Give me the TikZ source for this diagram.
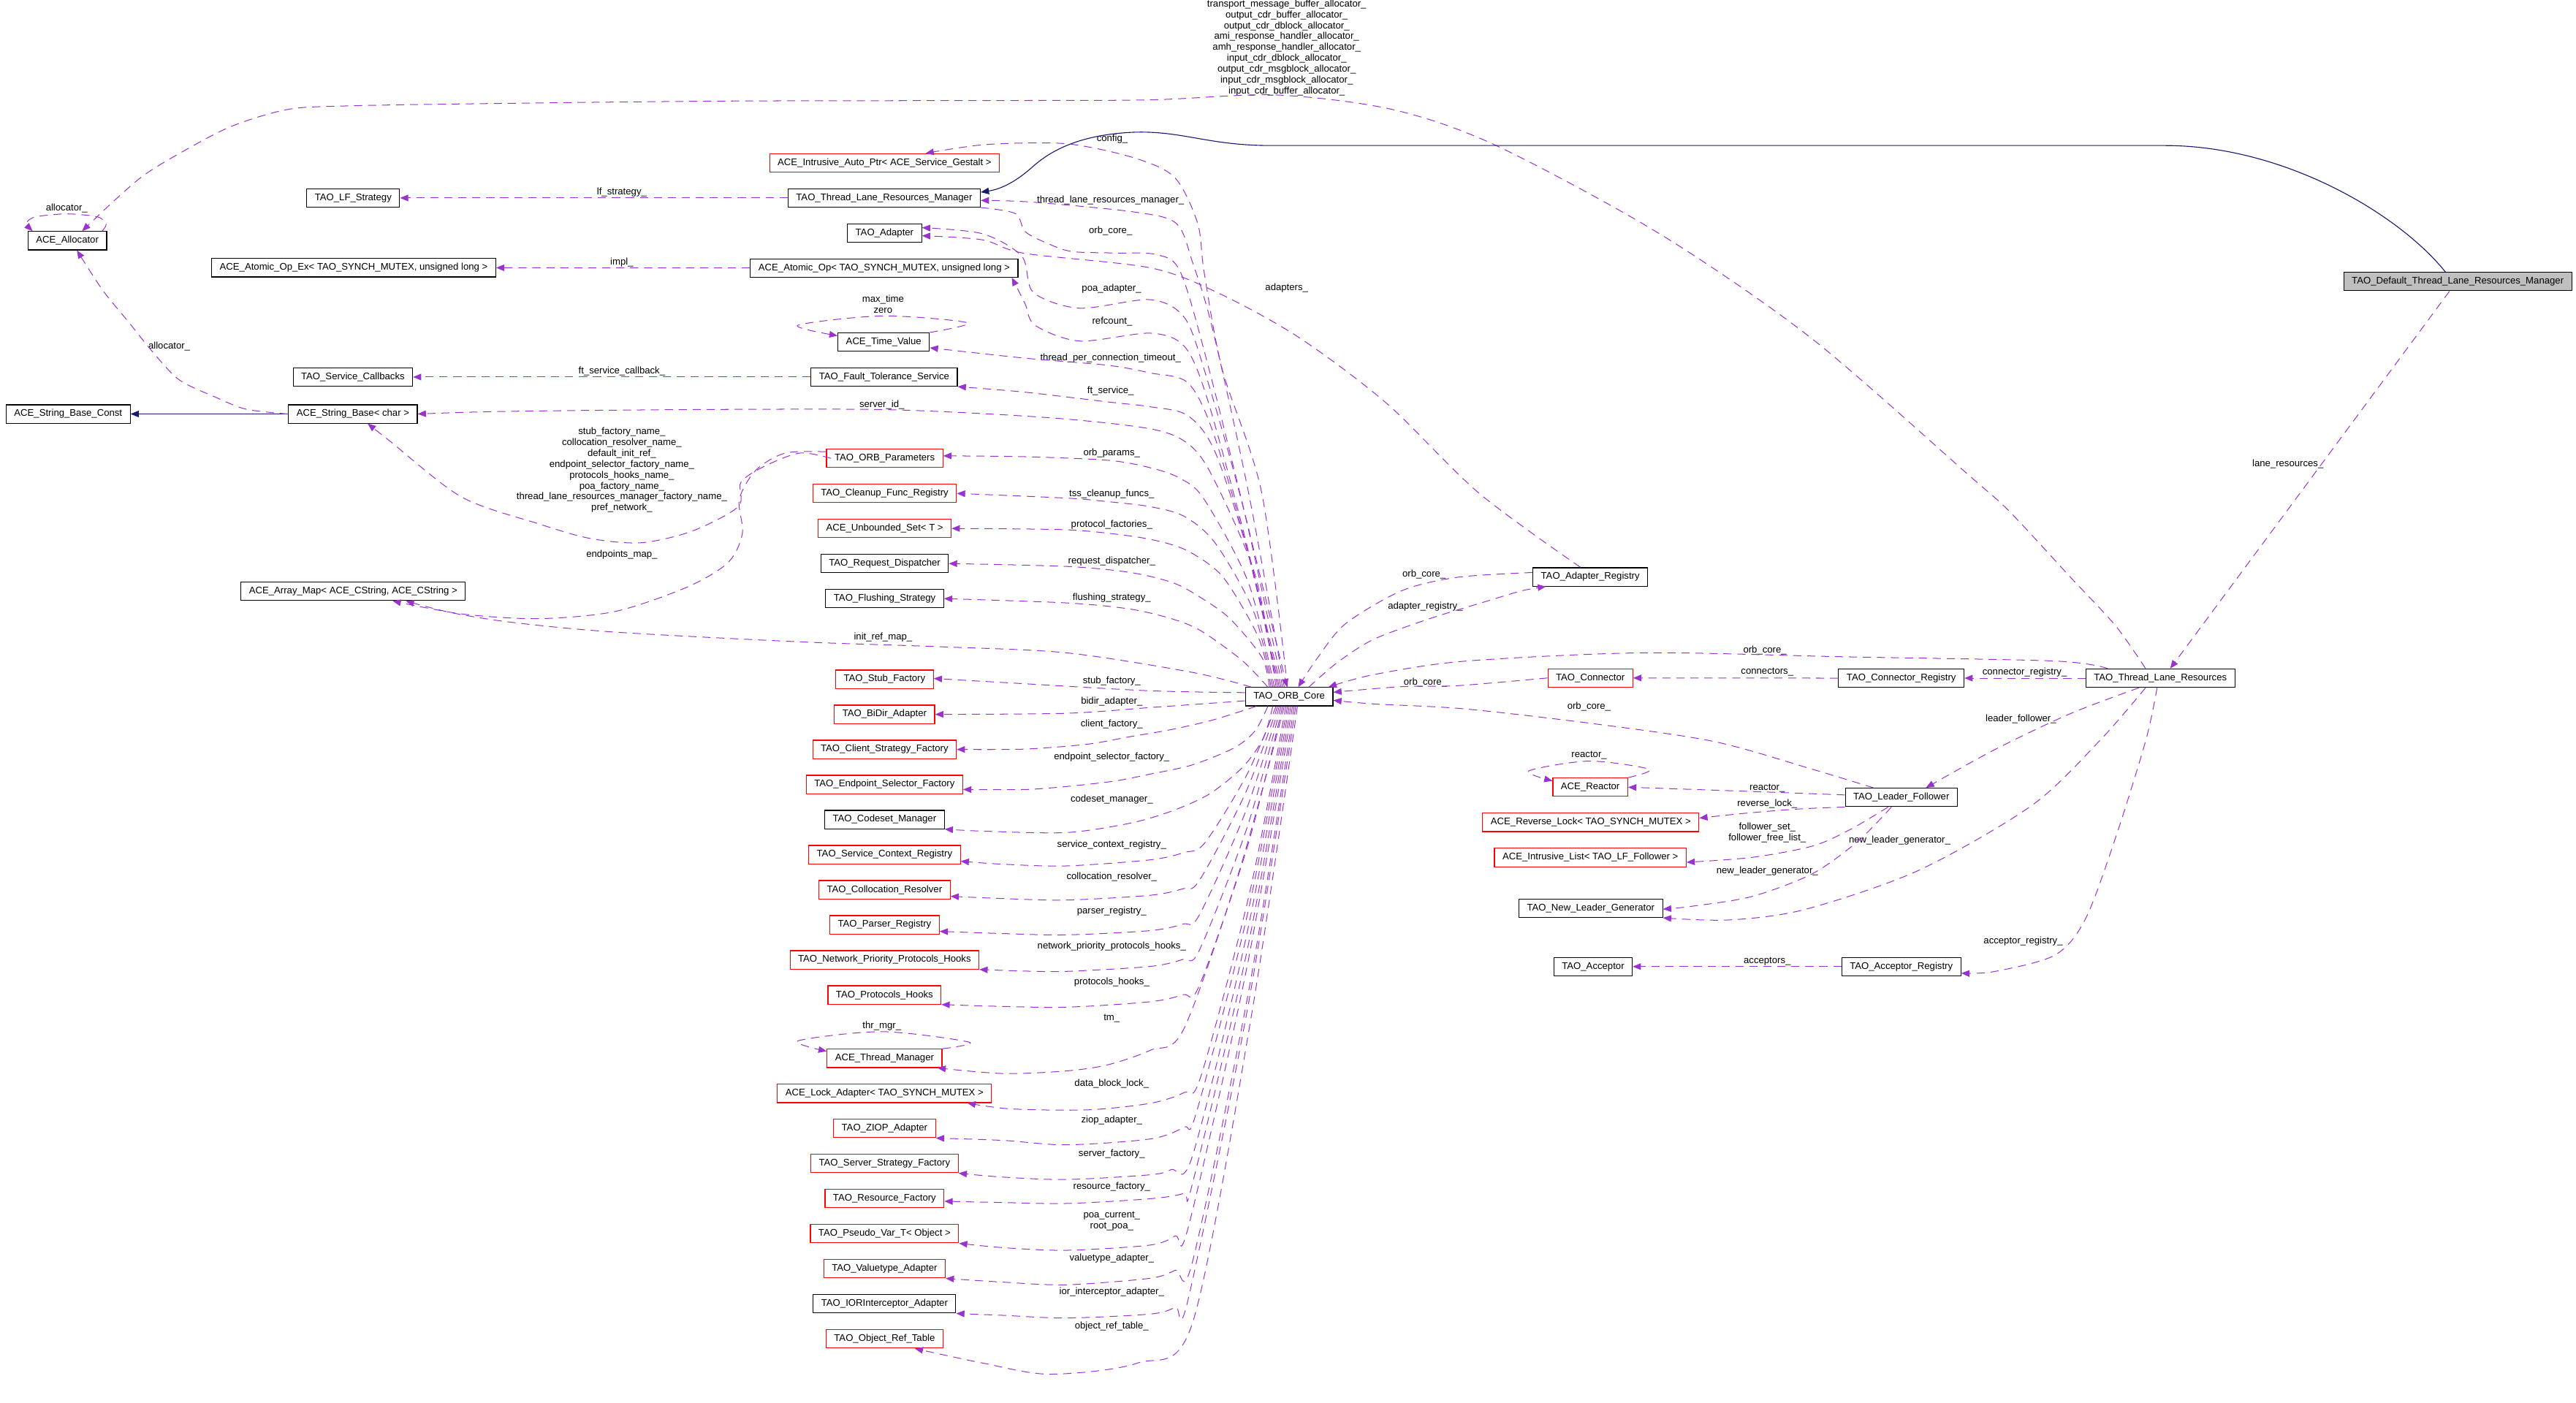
\documentclass[tikz,border=0pt]{standalone}
\usepackage{fontspec}
\setmainfont{Liberation Sans}
\usetikzlibrary{arrows.meta, positioning}
\definecolor{usecol}{HTML}{9A32CD}
\definecolor{inhcol}{HTML}{191970}
\definecolor{rootgray}{HTML}{BFBFBF}

\begin{document}
\begin{tikzpicture}[
    x=1pt, y=-1pt,
    node distance=9.65pt,
    every node/.style={font=\fontsize{5.85}{6.6}\selectfont},
    classbox/.style={draw=black, line width=0.5pt, fill=white, inner xsep=4.9pt, inner ysep=0pt, minimum height=11.2pt},
    refbox/.style={classbox, draw=red},
    rootbox/.style={classbox, fill=rootgray},
    edgelabel/.style={inner sep=0pt, align=center},
    arrow/.style={draw=usecol, line width=0.45pt, dash pattern=on 5pt off 3.5pt, -{Triangle[length=5pt, width=4pt]}},
    inherit/.style={draw=inhcol, line width=0.5pt, -{Triangle[length=5pt, width=4pt]}}
]
\useasboundingbox (0,0) rectangle (1568,854);

% ---------- LEFT COLUMN
\node[classbox] (alloc) at (41,146.5) {ACE\_Allocator};
\node[classbox] (lfstrat) at (215,120.5) {TAO\_LF\_Strategy};
\node[classbox] (atomicex) at (215.3,163) {ACE\_Atomic\_Op\_Ex< TAO\_SYNCH\_MUTEX, unsigned long >};
\node[classbox] (svccb) at (214.8,229.5) {TAO\_Service\_Callbacks};
\node[classbox] (strconst) at (41.5,252) {ACE\_String\_Base\_Const};
\node[classbox] (strbase) at (214.8,252) {ACE\_String\_Base< char >};
\node[classbox] (arraymap) at (215,360) {ACE\_Array\_Map< ACE\_CString, ACE\_CString >};

% ---------- MIDDLE COLUMN (TOP)
\node[refbox] (autoptr) at (538.4,99.2) {ACE\_Intrusive\_Auto\_Ptr< ACE\_Service\_Gestalt >};
\node[classbox] (tlrm) at (538.2,120.5) {TAO\_Thread\_Lane\_Resources\_Manager};
\node[classbox] (adapter) at (538.4,142) {TAO\_Adapter};
\node[classbox] (atomic) at (538.2,163.1) {ACE\_Atomic\_Op< TAO\_SYNCH\_MUTEX, unsigned long >};
\node[classbox] (timeval) at (537.9,208.2) {ACE\_Time\_Value};
\node[classbox] (ftsvc) at (538.2,229.5) {TAO\_Fault\_Tolerance\_Service};
\node[refbox] (orbparams) at (538.5,279) {TAO\_ORB\_Parameters};
\node[refbox, below=of orbparams] (cleanup) {TAO\_Cleanup\_Func\_Registry};
\node[refbox, below=of cleanup] (unbset) {ACE\_Unbounded\_Set< T >};
\node[classbox, below=of unbset] (reqdisp) {TAO\_Request\_Dispatcher};
\node[classbox, below=of reqdisp] (flush) {TAO\_Flushing\_Strategy};

% ---------- MIDDLE COLUMN (BOTTOM)
\node[refbox] (stubfac) at (538.4,413.5) {TAO\_Stub\_Factory};
\node[refbox, below=of stubfac] (bidir) {TAO\_BiDir\_Adapter};
\node[refbox, below=of bidir] (clientfac) {TAO\_Client\_Strategy\_Factory};
\node[refbox, below=of clientfac] (epselfac) {TAO\_Endpoint\_Selector\_Factory};
\node[classbox, below=of epselfac] (codeset) {TAO\_Codeset\_Manager};
\node[refbox, below=of codeset] (svcctx) {TAO\_Service\_Context\_Registry};
\node[refbox, below=of svcctx] (colloc) {TAO\_Collocation\_Resolver};
\node[refbox, below=of colloc] (parser) {TAO\_Parser\_Registry};
\node[refbox, below=of parser] (netprio) {TAO\_Network\_Priority\_Protocols\_Hooks};
\node[refbox, below=of netprio] (prothooks) {TAO\_Protocols\_Hooks};
\node[refbox, below=26.9pt of prothooks] (thrmgr) {ACE\_Thread\_Manager};
\node[refbox, below=of thrmgr] (lockadapt) {ACE\_Lock\_Adapter< TAO\_SYNCH\_MUTEX >};
\node[refbox, below=of lockadapt] (ziop) {TAO\_ZIOP\_Adapter};
\node[refbox, below=of ziop] (serverfac) {TAO\_Server\_Strategy\_Factory};
\node[refbox, below=of serverfac] (resfac) {TAO\_Resource\_Factory};
\node[refbox, below=of resfac] (pseudovar) {TAO\_Pseudo\_Var\_T< Object >};
\node[refbox, below=of pseudovar] (valuetype) {TAO\_Valuetype\_Adapter};
\node[classbox, below=of valuetype] (iorint) {TAO\_IORInterceptor\_Adapter};
\node[refbox, below=of iorint] (objref) {TAO\_Object\_Ref\_Table};

% ---------- CORE AND RIGHT SIDE
\node[classbox] (orbcore) at (784.7,424.1) {TAO\_ORB\_Core};
\node[classbox] (adaptreg) at (968,351.2) {TAO\_Adapter\_Registry};
\node[refbox] (connector) at (968,412.7) {TAO\_Connector};
\node[classbox] (connreg) at (1157.3,412.8) {TAO\_Connector\_Registry};
\node[classbox] (tlr) at (1315,412.8) {TAO\_Thread\_Lane\_Resources};
\node[refbox] (reactor) at (968,479.2) {ACE\_Reactor};
\node[classbox] (leaderf) at (1157.3,485.4) {TAO\_Leader\_Follower};
\node[refbox] (revlock) at (968.3,500.6) {ACE\_Reverse\_Lock< TAO\_SYNCH\_MUTEX >};
\node[refbox] (intrlist) at (968,522) {ACE\_Intrusive\_List< TAO\_LF\_Follower >};
\node[classbox] (newleader) at (968.3,552.9) {TAO\_New\_Leader\_Generator};
\node[classbox] (acceptor) at (969.7,588.4) {TAO\_Acceptor};
\node[classbox] (accreg) at (1157.3,588.4) {TAO\_Acceptor\_Registry};
\node[rootbox] (deftlrm) at (1496,171.4) {TAO\_Default\_Thread\_Lane\_Resources\_Manager};

% ---------- LABELS
\node[edgelabel] (allocselflbl) at (40.6,127) {allocator\_};
\node[edgelabel] (lfslbl) at (378.5,117) {lf\_strategy\_};
\node[edgelabel] (impllbl) at (378.5,159.8) {impl\_};
\node[edgelabel] (strallocl) at (103,210.9) {allocator\_};
\node[edgelabel] (ftcblbl) at (378.5,225.8) {ft\_service\_callback\_};
\node[edgelabel] (namelbl) at (378.5,286.2) {stub\_factory\_name\_\\collocation\_resolver\_name\_\\default\_init\_ref\_\\endpoint\_selector\_factory\_name\_\\protocols\_hooks\_name\_\\poa\_factory\_name\_\\thread\_lane\_resources\_manager\_factory\_name\_\\pref\_network\_};
\node[edgelabel] (epmaplbl) at (378.5,337.8) {endpoints\_map\_};
\node[edgelabel] (initreflbl) at (537.5,387.8) {init\_ref\_map\_};
\node[edgelabel] (serveridlbl) at (536.8,246.4) {server\_id\_};
\node[edgelabel] (timelbl) at (537.5,185.3) {max\_time\\zero};
\node[edgelabel] (thrmgrlbl) at (536.8,624.4) {thr\_mgr\_};
\node[edgelabel] (alloclbl) at (783.2,29.1) {transport\_message\_buffer\_allocator\_\\output\_cdr\_buffer\_allocator\_\\output\_cdr\_dblock\_allocator\_\\ami\_response\_handler\_allocator\_\\amh\_response\_handler\_allocator\_\\input\_cdr\_dblock\_allocator\_\\output\_cdr\_msgblock\_allocator\_\\input\_cdr\_msgblock\_allocator\_\\input\_cdr\_buffer\_allocator\_};
\node[edgelabel] (configlbl) at (677,84.5) {config\_};
\node[edgelabel] (tlrmlbl) at (676,121.9) {thread\_lane\_resources\_manager\_};
\node[edgelabel] (tlrmcorelbl) at (676,140.6) {orb\_core\_};
\node[edgelabel] (poalbl) at (676.6,175.7) {poa\_adapter\_};
\node[edgelabel] (adapterslbl) at (783.2,175.5) {adapters\_};
\node[edgelabel] (refcountlbl) at (677,195.7) {refcount\_};
\node[edgelabel] (timeoutlbl) at (676,218) {thread\_per\_connection\_timeout\_};
\node[edgelabel] (ftlbl) at (676,238) {ft\_service\_};
\node[edgelabel] (paramslbl) at (676.7,275.8) {orb\_params\_};
\node[edgelabel] (tsslbl) at (676.7,300.7) {tss\_cleanup\_funcs\_};
\node[edgelabel] (protfaclbl) at (676.7,319.2) {protocol\_factories\_};
\node[edgelabel] (reqdisplbl) at (676.7,341.8) {request\_dispatcher\_};
\node[edgelabel] (flushlbl) at (676.7,364) {flushing\_strategy\_};
\node[edgelabel] (stublbl) at (676.7,414.4) {stub\_factory\_};
\node[edgelabel] (bidirlbl) at (676.7,427) {bidir\_adapter\_};
\node[edgelabel] (clientlbl) at (676.7,440.7) {client\_factory\_};
\node[edgelabel] (epsellbl) at (676.7,460.9) {endpoint\_selector\_factory\_};
\node[edgelabel] (codesetlbl) at (676.7,486.7) {codeset\_manager\_};
\node[edgelabel] (svcctxlbl) at (676.7,514.2) {service\_context\_registry\_};
\node[edgelabel] (colloclbl) at (676.7,533.8) {collocation\_resolver\_};
\node[edgelabel] (parserlbl) at (676.7,554.9) {parser\_registry\_};
\node[edgelabel] (netpriolbl) at (676.7,576.1) {network\_priority\_protocols\_hooks\_};
\node[edgelabel] (prothookslbl) at (676.7,597.9) {protocols\_hooks\_};
\node[edgelabel] (tmlbl) at (676.7,619.9) {tm\_};
\node[edgelabel] (locklbl) at (676.7,659.9) {data\_block\_lock\_};
\node[edgelabel] (zioplbl) at (676.7,682) {ziop\_adapter\_};
\node[edgelabel] (serverlbl) at (676.7,702.2) {server\_factory\_};
\node[edgelabel] (reslbl) at (676.7,722.4) {resource\_factory\_};
\node[edgelabel] (poacurlbl) at (676.7,743.2) {poa\_current\_\\root\_poa\_};
\node[edgelabel] (valuelbl) at (676.7,766) {valuetype\_adapter\_};
\node[edgelabel] (iorlbl) at (676.7,786.5) {ior\_interceptor\_adapter\_};
\node[edgelabel] (objreflbl) at (676.7,807.6) {object\_ref\_table\_};
\node[edgelabel] (regcorelbl) at (866.8,349.6) {orb\_core\_};
\node[edgelabel] (adreglbl) at (867.6,369.2) {adapter\_registry\_};
\node[edgelabel] (tlrcorelbl) at (1074.3,395.8) {orb\_core\_};
\node[edgelabel] (conncorelbl) at (867.6,415.5) {orb\_core\_};
\node[edgelabel] (lfcorelbl) at (967.2,430) {orb\_core\_};
\node[edgelabel] (connslbl) at (1075.7,409.1) {connectors\_};
\node[edgelabel] (connreglbl) at (1232.4,409.1) {connector\_registry\_};
\node[edgelabel] (lflbl) at (1230.1,437.5) {leader\_follower\_};
\node[edgelabel] (reactorselflbl) at (967.3,459.9) {reactor\_};
\node[edgelabel] (reactorlbl) at (1075.7,479.6) {reactor\_};
\node[edgelabel] (revlocklbl) at (1075.7,489.1) {reverse\_lock\_};
\node[edgelabel] (followlbl) at (1075.7,506.7) {follower\_set\_\\follower\_free\_list\_};
\node[edgelabel] (tlrnlglbl) at (1156.3,511.6) {new\_leader\_generator\_};
\node[edgelabel] (lfnlglbl) at (1075.7,530.2) {new\_leader\_generator\_};
\node[edgelabel] (accreglbl) at (1231.5,573.1) {acceptor\_registry\_};
\node[edgelabel] (acceptorslbl) at (1075.7,585) {acceptors\_};
\node[edgelabel] (lanelbl) at (1392.6,282.5) {lane\_resources\_};

% ---------- LEFT EDGES
\draw[arrow] (tlrm.west) -- (lfstrat.east);
\draw[arrow] (atomic.west) -- (atomicex.east);
\draw[arrow] (ftsvc.west) -- (svccb.east);
\draw[inherit] (strbase.west) -- (strconst.east);
\draw[arrow] plot[smooth] coordinates {(strbase.west) (149.8,249.1) (131,241.7) (109.2,231.3) (93.6,215) (78,195.7) (62.4,176.5) ([xshift=5.8pt]alloc.south)};
\draw[arrow] plot[smooth] coordinates {([xshift=-3pt]alloc.north east) (64.6,136.4) (59.3,132) (40.6,130.2) (21.8,132) (16.2,135.7) ([xshift=3pt]alloc.north west)};
\draw[arrow] plot[smooth] coordinates {([xshift=3pt]orbparams.west) (486.8,275.8) (465,284) (451,293.6) (449.4,308.4) (421.3,323.3) (390,330.4) (358.9,327.7) (327.7,318.8) (280.9,302.5) (237.2,268.4) ([xshift=9pt]strbase.south)};
\draw[arrow] plot[smooth] coordinates {([yshift=4pt]orbparams.west) (478,275.8) (460.1,286.2) (450,304) (451.9,324.7) (443.1,342.5) (418.2,357.4) (374.5,372.2) (327.7,376.6) (280.9,373.7) ([xshift=24pt]arraymap.south)};
\draw[arrow] plot[smooth] coordinates {([xshift=-23pt]orbcore.north) (725.8,409.3) (649.2,397.4) (572.5,393.7) (486.8,390.7) (374.5,384.8) (312,378.9) (275,373) ([xshift=32pt]arraymap.south)};

% ---------- LONG ALLOCATOR ARC
\draw[arrow] plot[smooth] coordinates {([xshift=-9pt]tlr.north) (1287.7,380.9) (1260,351.1) (1223.2,311.4) (1198.2,289.1) (1102.3,205.7) (1010,142.2) (910.5,88.5) (847.8,66.7) (776.8,57.8) (700,60.8) (600,61.2) (444.8,61.5) (300,63) (210,64.5) (174.7,66.7) (140.4,77.1) (109.2,93.4) (87.4,106.8) (68.6,123) ([xshift=9pt]alloc.north)};

% ---------- INHERITANCE
\draw[inherit] ([xshift=-7.5pt]deftlrm.north) .. controls (1460,130) and (1390,88.6) .. (1318,88.6) -- (774,88.6) .. controls (735,88.6) and (720,79.5) .. (690,80.5) .. controls (655,82) and (638,93) .. (628,102) .. controls (619,110) and (610,115) .. ([yshift=3.5pt]tlrm.east);

% ---------- ORB CORE, UPPER FAN
\draw[arrow] plot[smooth] coordinates {([xshift=-1pt]orbcore.north) (768,300) (744,225) (733,166) (729,136) (715,108) (690,96) (649,87.5) (600,88) ([xshift=25pt]autoptr.north)};
\draw[arrow] plot[smooth] coordinates {([xshift=-3pt]orbcore.north) (760,300) (738,200) (726,160) (716,136) (690,129) (628,123) ([yshift=-1.5pt]tlrm.east)};
\draw[arrow] plot[smooth] coordinates {(tlrm.south east) (618,130) (624,141) (637.5,148.1) (652.3,153.1) (678,154) (704,155) (718.7,166) (736,225) (762,330) ([xshift=-1.3pt]orbcore.north)};
\draw[arrow] plot[smooth] coordinates {([xshift=-4pt]orbcore.north) (757,310) (733,225) (720.7,193) (700,182.4) (657,187.6) (629,178) (622,156) (598,142.3) ([yshift=3.4pt]adapter.east)};
\draw[arrow] plot[smooth] coordinates {([xshift=-5pt]orbcore.north) (756,320) (734,240) (720.7,210.6) (700,202.8) (657,207.6) (630,198) (624,185) ([xshift=-4pt]atomic.south east)};
\draw[arrow] plot[smooth] coordinates {([xshift=-6pt]orbcore.north) (758,330) (738,262) (723,233) (700,227) (674.6,222.4) (623.6,218) ([yshift=-3.5pt]timeval.east)};
\draw[arrow] plot[smooth] coordinates {([xshift=-7pt]orbcore.north) (762,345) (740,276) (723,253) (700,247.6) (674.6,244.7) (623.6,238.7) (ftsvc.south east)};
\draw[arrow] plot[smooth] coordinates {([xshift=-8pt]orbcore.north) (764,350) (738,290) (723,270) (700,261) (639,254.3) (545,249.5) (445,249.2) (340,250) (290,250.8) (strbase.east)};
\draw[arrow] plot[smooth] coordinates {([xshift=-9pt]orbcore.north) (760,355) (733,304) (718,291) (700,284.7) (674.6,280.2) (623.6,278) ([yshift=1.5pt]orbparams.east)};
\draw[arrow] plot[smooth] coordinates {([xshift=-10pt]orbcore.north) (763,372) (740,331) (721,314.4) (700,308.4) (674.6,305.4) (649,303.2) (cleanup.east)};
\draw[arrow] plot[smooth] coordinates {([xshift=-11pt]orbcore.north) (766,388) (745,352) (726,337) (710,330.6) (687.5,326.2) (649,322.5) (unbset.east)};
\draw[arrow] plot[smooth] coordinates {([xshift=-12pt]orbcore.north) (768,400) (748,376) (728,362) (713,354.4) (687.5,348.4) (649,344.8) (reqdisp.east)};
\draw[arrow] plot[smooth] coordinates {([xshift=-13pt]orbcore.north) (756,402) (731,384) (713,376.6) (687.5,370.7) (649,367) (flush.east)};
\draw[arrow] plot[smooth] coordinates {([xshift=-6pt]adaptreg.north) (900,300) (844,245.5) (790,205) (740.8,178) (700,163) (623.6,154.2) (598,146) ([yshift=-1.5pt]adapter.east)};

% ---------- TIME VALUE AND THREAD MANAGER LOOPS
\draw[arrow] plot[smooth] coordinates {(timeval.north east) (589,196.5) (537.5,192.3) (485.7,198) ([yshift=-2pt]timeval.north west)};
\draw[arrow] plot[smooth] coordinates {(thrmgr.north east) (589.9,634.4) (536.8,628) (485.7,633.6) ([yshift=-1.5pt]thrmgr.north west)};

% ---------- ORB CORE, LOWER FAN
\draw[arrow] plot[smooth] coordinates {([yshift=2.5pt]orbcore.west) (700,420.5) (620,416) ([yshift=0.5pt]stubfac.east)};
\draw[arrow] plot[smooth] coordinates {([yshift=-2.5pt]orbcore.west) (700.2,430.7) (649.2,434.2) (bidir.east)};
\draw[arrow] plot[smooth] coordinates {([xshift=-20pt]orbcore.south) (738.5,438.2) (713,444.1) (687.5,448.5) (662,453) (623.6,456) (clientfac.east)};
\draw[arrow] plot[smooth] coordinates {([xshift=-13pt]orbcore.south) (764,444.8) (751.3,455.2) (725.8,465.6) (700.2,471.2) (674.6,476) (628.7,480.4) ([yshift=-3pt]epselfac.east)};
\draw[arrow] plot[smooth] coordinates {([xshift=-10pt]orbcore.south) (769,449.3) (756.4,467) (736,483.4) (713,493.8) (687.4,501.2) (649.2,506.8) (600,506) (codeset.south east)};
\draw[arrow] plot[smooth] coordinates {([xshift=-8pt]orbcore.south) (759,471.5) (733.4,513) (720.6,519) (700.2,523.4) (649.2,527.1) (610.8,526.1) ([yshift=-4pt]svcctx.east)};
\draw[arrow] plot[smooth] coordinates {([xshift=-7pt]orbcore.south) (758,483) (730,536) (720,541) (700,545) (649,547.9) (611,547) ([yshift=-4pt]colloc.east)};
\draw[arrow] plot[smooth] coordinates {([xshift=-6pt]orbcore.south) (758.4,493.5) (730,557) (720,562.5) (700,566.5) (649,569.1) (611,568.3) ([yshift=-4pt]parser.east)};
\draw[arrow] plot[smooth] coordinates {([xshift=-5pt]orbcore.south) (758.9,504.3) (730,578.5) (720,584) (700,588.3) (649,591.3) (620,591) (netprio.south east)};
\draw[arrow] plot[smooth] coordinates {([xshift=-4pt]orbcore.south) (759.4,515) (730,600) (720,605.5) (700,609.8) (649,613.1) (605,612.5) (prothooks.south east)};
\draw[arrow] plot[smooth] coordinates {([xshift=-3pt]orbcore.south) (755,528) (720.6,626.3) (700.2,639.3) (674.6,648.1) (649.2,651.9) (610.8,653.5) ([xshift=-3pt]thrmgr.south east)};
\draw[arrow] plot[smooth] coordinates {([xshift=-2pt]orbcore.south) (760.8,542.7) (730.9,655.4) (720.6,665.1) (700.2,671.6) (662,675.6) (615,675) ([xshift=-15pt]lockadapt.south east)};
\draw[arrow] plot[smooth] coordinates {([xshift=-1pt]orbcore.south) (760,553.5) (728.3,677) (720.6,686.1) (700.2,693.3) (649.2,696.9) (610.8,694.2) (ziop.south east)};
\draw[arrow] plot[smooth] coordinates {(orbcore.south) (759.3,566.9) (725.8,703.8) (713,711.9) (700.2,715.1) (649.2,718) (610,716.5) (serverfac.south east)};
\draw[arrow] plot[smooth] coordinates {([xshift=1pt]orbcore.south) (759.8,575.3) (725.8,720.6) (720.6,726.4) (700.2,729.7) (649.2,732.6) (610,732) ([yshift=-1.6pt]resfac.east)};
\draw[arrow] plot[smooth] coordinates {([xshift=2pt]orbcore.south) (759,588.7) (723.2,747.4) (715.5,752.3) (700.2,757.9) (649.2,761.1) (610.8,759.5) (pseudovar.south east)};
\draw[arrow] plot[smooth] coordinates {([xshift=3pt]orbcore.south) (760.8,599.2) (725.8,768.3) (715.5,773.2) (700.2,778.1) (649.2,782.1) (610.8,780.5) (valuetype.south east)};
\draw[arrow] plot[smooth] coordinates {([xshift=4pt]orbcore.south) (760,610.5) (723.2,791) (715.5,795.8) (700.2,799.9) (649.2,802.3) (610.8,800.7) (iorint.south east)};
\draw[arrow] plot[smooth] coordinates {([xshift=5pt]orbcore.south) (761.8,617.8) (725.8,805.5) (692.5,829.7) (639,836.5) (598,829.7) ([xshift=-17.4pt]objref.south east)};

% ---------- RIGHT SIDE
\draw[arrow] plot[smooth] coordinates {([yshift=2.7pt]adaptreg.west) (887.2,351.4) (853.2,359.6) (819.1,379.6) (802,400.4) ([xshift=5.5pt]orbcore.north)};
\draw[arrow] plot[smooth] coordinates {([xshift=12pt]orbcore.north) (814,403.3) (836.1,389.2) (870.2,376.6) (904.2,366.2) (926.4,359.6) ([xshift=-27pt]adaptreg.south)};
\draw[arrow] plot[smooth] coordinates {([xshift=-32pt]tlr.north) (1250.9,402.4) (1121.8,399.8) (1000,397.4) (891.3,402.5) (836,410.7) ([xshift=-3pt]orbcore.north east)};
\draw[arrow] plot[smooth] coordinates {(connector.west) (887,417.4) (853,418) ([yshift=2.7pt]orbcore.east)};
\draw[arrow] plot[smooth] coordinates {([xshift=-17pt]leaderf.north) (1103.3,468.3) (1043.4,451.4) (969.7,440.5) (891.3,431.5) (836,428.5) ([yshift=-2.2pt]orbcore.east)};
\draw[arrow] (connreg.west) -- (connector.east);
\draw[arrow] (tlr.west) -- (connreg.east);
\draw[arrow] plot[smooth] coordinates {([xshift=-13pt]tlr.south) (1260,434.5) (1214,456.4) ([xshift=15pt]leaderf.north)};
\draw[arrow] plot[smooth] coordinates {([xshift=-9pt]tlr.south) (1278.5,450.4) (1237,490.1) (1167.9,529.8) (1098.7,553.6) (1052.6,560) (newleader.south east)};
\draw[arrow] plot[smooth] coordinates {([xshift=-6pt]leaderf.south) (1131,512) (1103.3,531.8) (1066.5,545.7) (1029.6,551.7) ([yshift=-0.5pt]newleader.east)};
\draw[arrow] plot[smooth] coordinates {([yshift=1.5pt]leaderf.west) (1066.5,481.8) (reactor.east)};
\draw[arrow] plot[smooth] coordinates {(reactor.north east) (1004,468.3) (967.3,463.3) (930.5,469.3) ([yshift=-2pt]reactor.north west)};
\draw[arrow] plot[smooth] coordinates {(leaderf.south west) (1094.1,492.5) (1061.8,495.1) ([yshift=2.6pt]revlock.east)};
\draw[arrow] plot[smooth] coordinates {([xshift=-8pt]leaderf.south) (1126.3,504.9) (1103.3,515) (1066.5,521.9) ([yshift=-2.9pt]intrlist.east)};
\draw[arrow] plot[smooth] coordinates {([xshift=-2pt]tlr.south) (1306.2,450.4) (1287.7,510) (1269.3,559.6) (1250.8,581.4) (1214,591.4) ([yshift=-4pt]accreg.east)};
\draw[arrow] (accreg.west) -- (acceptor.east);
\draw[arrow] ([xshift=-5pt]deftlrm.south) -- ([xshift=6pt]tlr.north);

\end{tikzpicture}
\end{document}
